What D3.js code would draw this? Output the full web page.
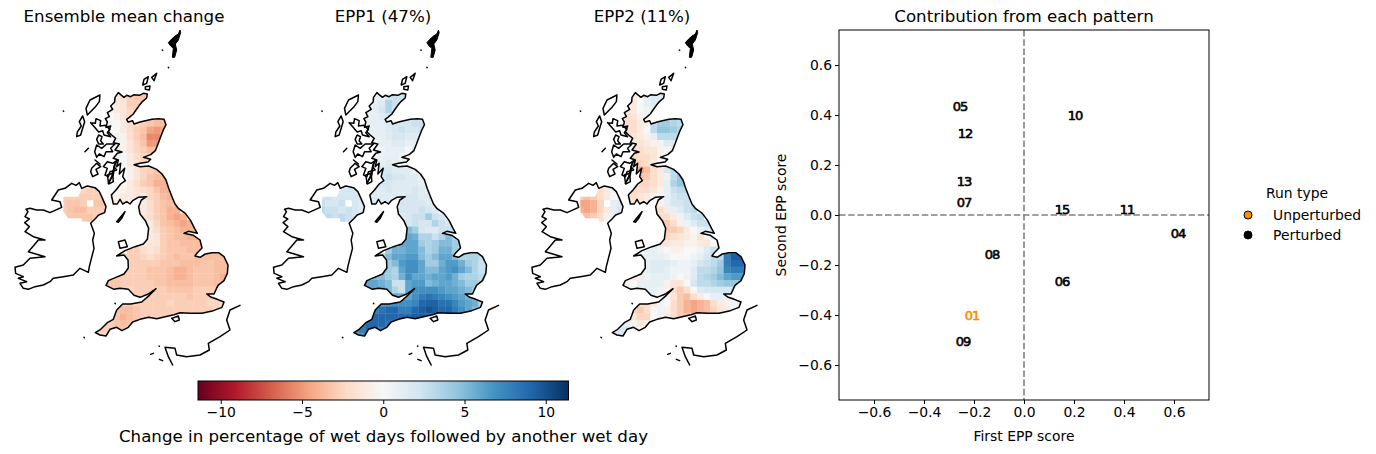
<!DOCTYPE html>
<html><head><meta charset="utf-8">
<script src="https://cdn.jsdelivr.net/npm/d3@7"></script>
<style>
html,body{margin:0;padding:0;background:#fff}
svg{display:block}
text{font-family:"DejaVu Sans",sans-serif;fill:#000}
.axis text{font-size:13.9px}
.axis path,.axis line{stroke:#000;stroke-width:1}
</style></head><body>
<svg id="c" width="1376" height="454"></svg>
<script>
// ---------- data ----------
const mapTitles=["Ensemble mean change","EPP1 (47%)","EPP2 (11%)"];
const colorStops=["#67001f","#b2182b","#d6604d","#f4a582","#fddbc7","#f7f7f7","#d1e5f0","#92c5de","#4393c3","#2166ac","#053061"];
const colorbarTicks=[-10,-5,0,5,10];
const scoreTicks=[-0.6,-0.4,-0.2,0,0.2,0.4,0.6];
const runLabels=["05","12","13","07","10","15","11","04","08","06","01","09"];
const firstScore=[-0.256,-0.236,-0.24,-0.24,0.204,0.152,0.412,0.616,-0.128,0.152,-0.208,-0.244];
const secondScore=[0.436,0.328,0.136,0.052,0.4,0.024,0.024,-0.072,-0.156,-0.264,-0.4,-0.504];
const legendNames=["Unperturbed","Perturbed"];
const legendColors=["darkorange","#000"];

// first land column of each grid row
const gbStart=[8,8,7,7,7,7,7,8,8,8,8,8,9,8,8,7,7,11,12,12,13,13,12,10,8,9,9,8,7,7,10,9,8,7,6,5,5];
const niStart=[3,0,0,0,0,1];
const _=null;
const gbMean=[
[-1,-2,-2.8,-3.2,-3.2,-2.8],[-1,-1.5,-2.8,-2.8,-3.2],[-.5,-1,-1.5,-2.5,-2.8],[0,-.5,-1.5,-2.5],
[0,0,-1,-2,-2.5,-2.8,-3.2,-3.5,-3.5],[0,0,-1,-2,-2.8,-3.2,-4.5,-5,-4.5],[.5,.5,-.5,-2,-2.8,-3.5,-5.5,-5.5,-4.5],
[.5,-.5,-1.5,-2.5,-3.2,-5,-5],[.5,-.5,-1.5,-2.5,-2.8,-3.5,-3.5],[.5,0,-1,-2,-2.5,-2.8],[.5,0,-1,-1.5,-2.5],
[0,0,-.5,-1.5,-2.5,-2.8,-3.2],[0,-.5,-1.5,-2.5,-3.2,-3.5,-3.5],[0,0,-1,-2,-2.8,-3.2,-4,-4],
[0,-.5,-1,-1.5,-2,-2.5,-3.2,-4,-4],[-.5,-.5,-1,-1,-1.5,-1,-2.5,-2.8,-3.5,-4],[-1,-1,-1,-1,-1,-1,-2,-2.8,-3.2,-3.5,-3.2],
[-1,-1,-2,-2.8,-3.2,-4,-4],[-1.5,-2,-2.8,-3.2,-4,-4.5,-4],[-1,-1,-2.5,-3.2,-3.5,-4,-4.5,-4],
[-1,-2,-2.8,-3.2,-3.5,-4,-4,-3.5],[-1,-1.5,-2.8,-3.2,-3.5,-3.5,-4,-4],[-1.5,-1.5,-1.5,-2.8,-3.2,-3.2,-3.5,-3.5,-3.5,-3.5],
[-2.8,-2.8,-2,-1.5,-2,-2.8,-3.2,-3.2,-3.2,-3.5,-3.5,-3.5],
[-2.8,-2.8,-2.8,-2.8,-2.5,-2,-2.5,-2.8,-3.2,-3.5,-3.2,-3.2,-3.5,-3.5,-3.5,-3.5,-3.5],
[-2.5,-2.8,-2.8,-2.8,-2.8,-2.8,-3.2,-3.2,-3.2,-3.5,-3.5,-3.5,-3.2,-3.2,-3.5,-3.5,-3.5],
[-2.8,-2.8,-2.8,-2.8,-3.2,-3.2,-3.2,-3.5,-4,-4,-3.5,-3.2,-3.2,-3.2,-3.5,-3.5,-3.5],
[-2.8,-2.8,-2.8,-2.8,-2.8,-3.2,-3.2,-3.2,-3.5,-4,-4,-3.5,-3.2,-3.2,-3.2,-3.5,-4],
[-3.2,-3.2,-2.8,-2.8,-2.8,-2.8,-2.8,-3.2,-3.2,-3.5,-3.5,-3.5,-3.5,-3.2,-3.2,-3.2,-3.5,-3.5],
[-3.2,-3.2,-2.8,-2.5,-2.8,-2.8,-2.8,-2.8,-2.8,-3.2,-3.2,-3.2,-3.2,-2.8,-2.8,-2.8,-3.2],
[-2.8,-2.8,-2.8,-2.8,-2.8,-2.8,-2.8,-2.8,-2.8,-3.2,-2.8,-2.8,-2.8,-2.8],
[-2.8,-3.2,-2.8,-2.8,-2.8,-2.8,-2.8,-2.5,-2.8,-2.8,-2.8,-2.8,-2.8,-2.5,-2.5,-2],
[-3.2,-3.5,-3.5,-3.2,-2.8,-2.8,-2.8,-2.8,-2.8,-2.8,-2.8,-2.8,-2.8,-2.8,-2.8,-2.5,-2],
[-2.8,-3.2,-4,-3.5,-3.2,-2.8,-2.8,-2.8,-2.8,-2.8,-2.8,-2.8,-2.8,-2.5],
[-2.8,-2.8,-3.2,-3.5,-3.2,-3.2,-2.8,-2.8,-2.8,-2.8],[-2.5,-2.8,-2.8,-3.2,-3.2,-2.8],[-2.5,-2.5]];
const gbEpp1=[
[1,1,2,2.5,2.5,2],[1,1.5,3.5,2.5,2],[1,1,2,3.5,2],[1,1,1.5,2],
[1,1,1,1.5,2,2,2,2.5,2.5],[1,1,1,1.5,2,2.5,2,2,2.5],[1,1,1,1.5,2,2,1.5,1.5,2],
[.5,1,1,1.5,1.5,1,1],[-.5,.5,1,1,1,0,1.5],[.5,1,1,1,.5,-.5],[1,1,1.5,1,1],
[1.5,2,2,1.5,1.5,1.5,1],[2,2.5,2,2,1.5,1.5,1],[1.5,2,2,1.5,1.5,1.5,1.5,1],
[1.5,1.5,2,1.5,1.5,1.5,2,1.5,1],[1.5,1.5,1.5,1.5,1.5,1.5,2,2,1.5,1.5],[1.5,1.5,1.5,1.5,1.5,2,2,2,2,1.5,1.5],
[1.5,2,2,2,2.5,2,1.5],[1.5,2,2.5,2.5,4,2.5,2],[2,2,2.5,2,2,3.5,2.5,2],
[5,4,2,1.5,1.5,2.5,2.5,2],[6,5.5,3.5,3.5,2.5,3.5,5,3.5],[6,6,6,4,3.5,4,5,5,4,3.5],
[4,5.5,5.5,6,6,5,3.5,4,5.5,5.5,4,3.5],
[3.5,3.5,5,6,6,6.5,6.5,5,4,5,6,6,5,3.5,3.5,3.5,3],
[4,4,5,6.5,7,7,6,4,4,5.5,6.5,6.5,5.5,4,3.5,2.5,2.5],
[5,4,3.5,6,7,7,6,5,5,6,6.5,7,6,5,3.5,2.5,2.5],
[5,5,4,3.5,5.5,7,6,6,5.5,6,6,6.5,5.5,4,3.5,3.5,3],
[6,6,5.5,5,2.5,2.5,6,6.5,6.5,5,5.5,6,6,5.5,5,4,4,3.5],
[6,6,6,5,3.5,2.5,6,7,7,7,7,6.5,6,6,5.5,5,4],
[5.5,6,6,6,7,8,8.5,8,7.5,7,6.5,6,5.5,5],
[6.5,6.5,7,7,7,7.5,9,9.3,9.3,8.5,8.5,7.5,6.5,6,5.5,3.5],
[8,8.5,9,9,8,8,9,9.5,10,9.5,9,9,8,7,6,5,3.5],
[8,9,9,9,9,9,9,9.5,9.5,9.3,9,8,7,6],
[8,9,9,9,8.5,8,8,8,7,7],[7,8,9,9,8,7],[6,7]];
const gbEpp2=[
[-1,0,1,1.5,1.5,1],[-1,0,1,1.5,1],[-1.5,-1,0,.5,1],[-2,-1.5,-.5,.5],
[-2,-2,-1,-.5,3,4,4,3.5,3],[-2,-2,-1,0,3,4.5,4.5,4,3.5],[-2,-1.5,-1,-.5,1,3,3,3,3],
[-1.5,-1.5,-1,-.5,.5,1.5,1.5],[-2,-2,-1.5,-1.5,-.5,0,.5],[-2.5,-2,-2,-1.5,-.5,0],[-3,-2.5,-2,-1,0],
[-3,-4.5,-3.5,-2,-1,2,3],[-3.5,-3,-2,-1,.5,3,4.5],[-2,-2.5,-2.5,-2,-1,1,3.5,4.5],
[-2.5,-2,-2,-1.5,-.5,1,2.5,3,3],[-2.5,-2,-1.5,-1,-.5,0,1,2,2.5,2.5],[-2,-1.5,-1,-1,-.5,-.5,1,2,2,2.5,2.5],
[-1.5,-2,-1,1,1.5,2.5,3],[-2,-2,-1,.5,1.5,2.5,3],[-2.5,-3,-2,-.5,.5,1.5,2.5,2.5],
[-3,-3,-2.5,-1,0,1,1.5,2],[-2.5,-2,-1.5,-1,-.5,-1.5,-.5,1.5],[-1.5,-1.5,-1,-1,-.5,-.5,-1,-1.5,0,2],
[1,1,.5,0,-.5,-.5,0,0,.5,1.5,2.5,3],
[1,1,1,1,1,.5,0,0,0,.5,1,2,3,3,8,9.5,9.5],
[-.5,1,1.5,1.5,1.5,1,.5,.5,1,2,2.5,3,4,8,9,9,8],
[-.5,1,1.5,1.5,1,.5,.5,.5,1.5,3,3,3.5,4.5,7.5,8,8,7],
[-1,-1,.5,1,1,1,.5,0,.5,1.5,3,3.5,4,5,6,6.5,6.5],
[-.5,0,1,1,1,1,-.5,-1.5,-1.5,0,2,3,3,3.5,4,4.5,4.5,4],
[0,.5,1,1,1,.5,-.5,-2,-3,-2,0,1.5,2,2,2,2,2.5],
[1,1,.5,0,-1.5,-3,-3.5,-2,-1,0,1,1,1,1],
[-1.5,-2,-1,.5,0,-2,-3,-4,-4.5,-4,-3.5,-2,-1,-.5,.5,1],
[-2.5,-3,-2,0,.5,-.5,-2,-3,-4,-4.5,-4,-3.5,-2.5,-1.5,-1,0,1],
[0,-1.5,-2.5,-2.5,0,.5,-1,-2,-3,-3,-3,-2.5,-2,-1.5],
[1,1,-.5,-1.5,-1,-.5,-1,-1,-1,-2],[1,2,2,1,0,-1],[1,1.5]];
const niMean=[[-2.5,-2.8,-2.8,-2.8],[-2.8,-2.8,-2.8,-2.8,-2.8,-2.8,-2.8],[-2.8,-3.2,-3.2,-2.8,_,-3.2,-3.2],[-2.8,-3.2,-3.5,-3.5,-2.8,-2.8,-2.8],[-2.8,-3.2,-3.2,-3.2,-3.2,-2.8,-2.8],[-2.8,-2.8,-2.8,-3.2,-2.8]];
const niEpp1=[[2,2,2,2],[2,2.5,2,2,2,2,2],[2.5,2,2,2.5,_,2,1.5],[3,2.5,2.5,2,2.5,2,1.5],[3,3,2.5,3,2.5,2,2],[3,3,3,2.5,2]];
const niEpp2=[[-2,-1,.5,.5],[-3,-3.5,-3,-2,-1,0,.5],[-4.5,-4.5,-4,-2.5,_,1,1.5],[-4,-4.5,-4,-2.5,-1,1,2],[-3,-3.5,-3,-2,-.5,1,1],[-3,-3,-2,-.5,.5]];

// coastlines, in map units
const coastGB=[[355,218],[362,224],[372,232],[380,226],[392,230],[402,224],[418,226],[430,220],[442,222],[440,234],[428,244],[418,256],[408,270],[400,282],[388,292],[380,298],[384,306],[398,302],[402,312],[420,306],[436,302],[456,298],[476,296],[492,298],[498,314],[490,330],[482,350],[474,372],[466,392],[452,404],[430,412],[452,418],[444,426],[420,430],[402,434],[420,440],[446,438],[470,448],[486,462],[498,480],[506,505],[516,530],[525,552],[536,566],[556,580],[572,602],[584,626],[592,640],[565,634],[552,640],[580,646],[600,660],[606,684],[592,698],[585,708],[600,712],[616,702],[636,698],[656,698],[672,710],[684,735],[682,760],[672,782],[654,796],[642,822],[620,822],[634,832],[652,838],[672,846],[666,862],[640,872],[606,880],[570,880],[540,878],[522,884],[505,888],[470,896],[446,892],[420,898],[398,906],[385,922],[366,932],[350,922],[330,928],[318,948],[300,945],[286,938],[302,928],[322,908],[340,898],[350,870],[368,852],[392,852],[425,846],[448,826],[468,806],[445,822],[420,832],[402,826],[385,808],[360,805],[342,808],[318,796],[325,782],[348,772],[372,762],[385,744],[384,720],[372,705],[350,708],[375,692],[405,680],[430,672],[442,658],[446,625],[436,602],[420,582],[416,560],[424,540],[440,530],[415,532],[398,542],[390,552],[380,545],[368,552],[360,538],[352,552],[340,552],[334,525],[348,510],[362,492],[376,482],[368,470],[374,445],[358,462],[362,430],[350,440],[355,420],[340,415],[352,400],[366,396],[345,390],[358,372],[340,368],[347,355],[335,345],[325,335],[332,318],[318,322],[322,306],[316,296],[328,290],[322,278],[338,268],[332,258],[344,246],[345,232],[355,218]];
const coastIreland=[[215,490],[228,496],[238,488],[245,505],[262,498],[285,503],[298,515],[305,530],[318,560],[314,578],[296,585],[285,597],[272,610],[283,640],[278,660],[282,685],[275,712],[268,740],[265,757],[240,745],[220,765],[190,770],[160,775],[150,785],[130,795],[105,800],[85,808],[70,805],[60,790],[80,785],[55,775],[70,770],[47,760],[45,742],[70,735],[90,715],[135,710],[100,700],[85,695],[100,678],[115,660],[135,660],[100,650],[75,635],[88,620],[74,608],[88,597],[75,590],[84,575],[78,568],[90,565],[110,570],[130,570],[150,578],[185,562],[180,545],[155,540],[165,525],[175,510],[195,505],[215,490]];
const coastFrance=[[720,856],[690,870],[680,900],[690,930],[660,950],[625,970],[628,990],[600,1005],[560,1010],[530,1005],[525,985],[495,982],[505,1010],[518,1035]];
const coastIslands=[
[[487,90],[488,91]],[[505,142],[506,143]],[[190,273],[191,274]],[[252,952],[253,953]],[[345,850],[346,851]],
[[300,225],[270,240],[258,265],[262,285],[285,262],[298,245],[300,225]],
[[248,288],[238,305],[244,318],[232,336],[230,350],[242,345],[248,325],[254,305],[248,288]],
[[272,308],[286,310],[288,296],[302,302],[300,318],[316,316],[330,328],[322,338],[332,350],[312,345],[308,332],[296,336],[284,322],[272,308]],
[[296,345],[306,350],[302,362],[310,372],[296,372],[290,358],[296,345]],
[[255,395],[265,385]],
[[290,375],[305,385],[320,372],[345,372],[332,385],[338,395],[318,395],[312,410],[298,402],[290,412],[284,395],[290,375]],
[[285,420],[300,432]],
[[322,425],[338,430],[352,420],[342,440],[350,450],[330,455],[325,470],[315,465],[322,445],[310,440],[322,425]],
[[275,445],[290,430],[302,440],[288,448],[294,462],[278,470],[272,455],[275,445]],
[[345,430],[335,470],[325,490],[340,465],[345,430]],
[[322,465],[338,460],[340,485],[326,492],[322,465]],
[[350,605],[375,575],[365,595],[355,607],[350,605]],
[[355,665],[375,660],[382,680],[360,685],[355,665]],
[[515,895],[535,888],[538,900],[525,905],[515,895]],
[[460,1000],[452,1003]],[[478,1018],[488,1022]],[[477,978],[478,979]],
[[432,178],[445,170],[440,190],[428,195],[432,178]],[[436,200],[450,198],[448,210],[436,208],[436,200]],[[455,172],[470,160],[462,182],[455,172]]];
const solidIslands=[
[[540,30],[535,42],[525,48],[514,58],[505,68],[512,78],[520,85],[517,112],[524,112],[530,90],[526,72],[535,60],[542,38]]];
const niClip=[[190,530],[235,530],[245,505],[285,503],[305,530],[318,560],[314,578],[296,585],[275,605],[245,605],[245,595],[205,595],[190,575]];

// ---------- page layout ----------
const svg=d3.select("#c");
const mapOffsets=[0,258.5,517];
const titleX=[124,383,642];
const mapX=d3.scaleLinear().domain([0,750]).range([0,250]);
const mapY=d3.scaleLinear().domain([0,1050]).range([20,370]);
const stopValues=d3.range(11).map(i=>-11.4+i*2.28);
const color=d3.scaleLinear().domain(stopValues).range(colorStops).clamp(true);
const coastLine=d3.line().x(d=>mapX(d[0])).y(d=>mapY(d[1]));
const cellX=c=>mapX(180+20*c), cellY=r=>mapY(220+20*r), cellW=mapX(20)-mapX(0), cellH=mapY(20)-mapY(0);

const defs=svg.append("defs");
defs.append("clipPath").attr("id","land").selectAll("path").data([coastGB,niClip,coastIslands[14],coastIslands[15]])
  .join("path").attr("d",d=>coastLine(d)+"Z");
const grad=defs.append("linearGradient").attr("id","cb");
grad.selectAll("stop").data(colorStops).join("stop").attr("offset",(d,i)=>i/10).attr("stop-color",d=>d);

const fields=[[gbMean,niMean],[gbEpp1,niEpp1],[gbEpp2,niEpp2]];
fields.forEach(([gb,ni],k)=>{
  const g=svg.append("g").attr("transform",`translate(${mapOffsets[k]},0)`);
  const cells=g.append("g").attr("clip-path","url(#land)");
  const put=(rows,starts,rowBase)=>rows.forEach((row,i)=>row.forEach((v,j)=>{
    if(v===null)return;
    cells.append("rect").attr("x",cellX(starts[i]+j)).attr("y",cellY(rowBase+i))
      .attr("width",cellW+.3).attr("height",cellH+.3).attr("fill",color(v));
  }));
  put(gb,gbStart,0);
  put(ni,niStart,14);
  const lines=[coastGB,coastIreland,coastFrance,...coastIslands];
  g.selectAll("path.coast").data(lines).join("path").attr("class","coast")
    .attr("d",coastLine).attr("fill","none").attr("stroke","#000").attr("stroke-width",1.5)
    .attr("stroke-linejoin","round").attr("stroke-linecap","round");
  g.selectAll("path.solid").data(solidIslands).join("path").attr("class","solid")
    .attr("d",d=>coastLine(d)+"Z").attr("fill","#000").attr("stroke","#000").attr("stroke-width",1);
  svg.append("text").attr("x",titleX[k]).attr("y",22).attr("text-anchor","middle")
    .style("font-size","16.67px").text(mapTitles[k]);
});

// colour bar
const cbX=d3.scaleLinear().domain([-11.4,11.4]).range([198,568.5]);
const cbTop=381,cbBottom=400;
svg.append("rect").attr("x",cbX(-11.4)).attr("y",cbTop).attr("width",cbX(11.4)-cbX(-11.4)).attr("height",cbBottom-cbTop).attr("fill","url(#cb)").attr("stroke","#000");
svg.append("g").attr("class","axis").attr("transform",`translate(0,${cbBottom})`)
  .call(d3.axisBottom(cbX).tickValues(colorbarTicks).tickSize(4).tickPadding(3).tickSizeOuter(0))
  .call(g=>g.select(".domain").remove());
svg.append("text").attr("x",383.5).attr("y",442).attr("text-anchor","middle").style("font-size","16.67px")
  .text("Change in percentage of wet days followed by another wet day");

// score panel
const x=d3.scaleLinear().domain([-0.74,0.74]).range([839,1209]);
const y=d3.scaleLinear().domain([-0.74,0.74]).range([400,30]);
const ax=svg.append("g");
ax.append("line").attr("x1",x(0)).attr("x2",x(0)).attr("y1",30).attr("y2",400).attr("stroke","#808080").attr("stroke-width",1.6).attr("stroke-dasharray","6.5,2.7");
ax.append("line").attr("x1",839).attr("x2",1209).attr("y1",y(0)).attr("y2",y(0)).attr("stroke","#808080").attr("stroke-width",1.6).attr("stroke-dasharray","6.5,2.7");
ax.append("rect").attr("x",839).attr("y",30).attr("width",370).attr("height",370).attr("fill","none").attr("stroke","#000");
svg.append("g").attr("class","axis").attr("transform","translate(0,400)")
  .call(d3.axisBottom(x).tickValues(scoreTicks).tickFormat(d3.format(".1f")).tickSize(4).tickPadding(3))
  .call(g=>g.select(".domain").remove());
svg.append("g").attr("class","axis").attr("transform","translate(839,0)")
  .call(d3.axisLeft(y).tickValues(scoreTicks).tickFormat(d3.format(".1f")).tickSize(4).tickPadding(3))
  .call(g=>g.select(".domain").remove());
svg.append("g").selectAll("text").data(runLabels).join("text")
  .attr("x",(d,i)=>x(firstScore[i])).attr("y",(d,i)=>y(secondScore[i])).attr("dy","0.36em")
  .attr("text-anchor","middle").style("font-size","13px").style("letter-spacing","-1px")
  .style("stroke",d=>d==="01"?"darkorange":"#000").style("stroke-width",".6px")
  .style("fill",d=>d==="01"?"darkorange":"#000").text(d=>d);
svg.append("text").attr("x",1024).attr("y",22).attr("text-anchor","middle").style("font-size","16.67px").text("Contribution from each pattern");
svg.append("text").attr("x",1024).attr("y",441).attr("text-anchor","middle").style("font-size","13.9px").text("First EPP score");
svg.append("text").attr("transform","translate(786,215) rotate(-90)").attr("text-anchor","middle").style("font-size","13.9px").text("Second EPP score");

// legend
svg.append("text").attr("x",1297).attr("y",198).attr("text-anchor","middle").style("font-size","13.9px").text("Run type");
legendNames.forEach((n,i)=>{
  const ly=215+20*i;
  svg.append("circle").attr("cx",1248).attr("cy",ly).attr("r",4).attr("fill",legendColors[i]).attr("stroke","#000");
  svg.append("text").attr("x",1273).attr("y",ly+5).style("font-size","13.9px").text(n);
});
</script>
</body></html>
